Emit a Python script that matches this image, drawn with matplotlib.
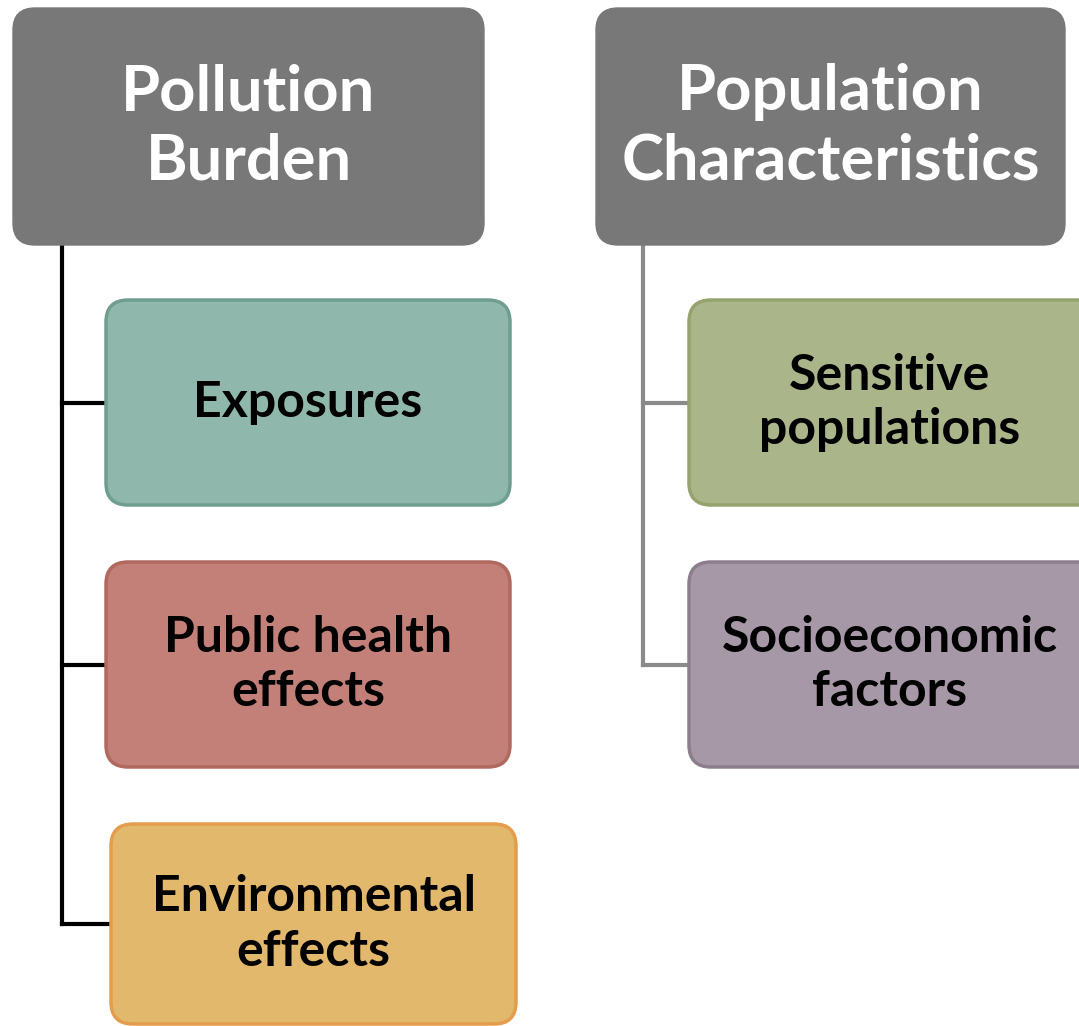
import matplotlib
matplotlib.use('Agg')
import matplotlib.pyplot as plt
from matplotlib.patches import FancyBboxPatch

# header boxes
headers = ['Pollution\nBurden', 'Population\nCharacteristics']
header_color = '#787878'

# child boxes under each header
left_items = ['Exposures', 'Public health\neffects', 'Environmental\neffects']
left_fill = ['#8fb7ac', '#c28079', '#e2b96c']
left_edge = ['#6f9d90', '#b0695f', '#e39d4c']

right_items = ['Sensitive\npopulations', 'Socioeconomic\nfactors']
right_fill = ['#aab68a', '#a698a6']
right_edge = ['#95a36e', '#8c7e8c']

W, H = 1079, 1026
fig = plt.figure(figsize=(W / 100, H / 100), dpi=100)
ax = fig.add_axes([0, 0, 1, 1])
ax.set_xlim(0, W)
ax.set_ylim(H, 0)
ax.axis('off')

font = ['Lato', 'DejaVu Sans']


def box(x0, y0, x1, y1, fc, ec, lw=2.5, r=22):
    p = FancyBboxPatch((x0, y0), x1 - x0, y1 - y0,
                       boxstyle='round,pad=0,rounding_size=%d' % r,
                       fc=fc, ec=ec, lw=lw, zorder=3)
    ax.add_patch(p)


def label(x, y, text, tc, size, ls):
    ax.text(x, y, text, ha='center', va='center', color=tc, fontsize=size,
            fontweight='bold', family=font, linespacing=ls, zorder=4)


# headers
hx = [(13, 484), (596, 1065)]
for (x0, x1), t in zip(hx, headers):
    box(x0, 8, x1, 245, header_color, header_color, lw=1)
    label((x0 + x1) / 2, 127, t, 'white', 45.5, 1.25)

# left column
left_x = [(106, 510), (106, 510), (111, 516)]
left_y = [(300, 505), (562, 767), (824, 1024)]
mids = []
for (x0, x1), (y0, y1), t, fc, ec in zip(left_x, left_y, left_items, left_fill, left_edge):
    box(x0, y0, x1, y1, fc, ec)
    label((x0 + x1) / 2, (y0 + y1) / 2, t, 'black', 36, 1.25)
    mids.append(((y0 + y1) / 2, x0))
ax.plot([62, 62], [245, mids[-1][0]], color='black', lw=3, zorder=2)
for ym, x0 in mids:
    ax.plot([62, x0], [ym, ym], color='black', lw=3, zorder=2)

# right column, boxes run off the right edge
right_x = [(689, 1100), (689, 1100)]
right_y = [(300, 505), (562, 767)]
mids = []
for (x0, x1), (y0, y1), t, fc, ec in zip(right_x, right_y, right_items, right_fill, right_edge):
    box(x0, y0, x1, y1, fc, ec)
    label(890, (y0 + y1) / 2, t, 'black', 36, 1.25)
    mids.append(((y0 + y1) / 2, x0))
ax.plot([643, 643], [245, mids[-1][0]], color='#8a8a8a', lw=3, zorder=2)
for ym, x0 in mids:
    ax.plot([643, x0], [ym, ym], color='#8a8a8a', lw=3, zorder=2)

fig.savefig('out.png', dpi=100)
